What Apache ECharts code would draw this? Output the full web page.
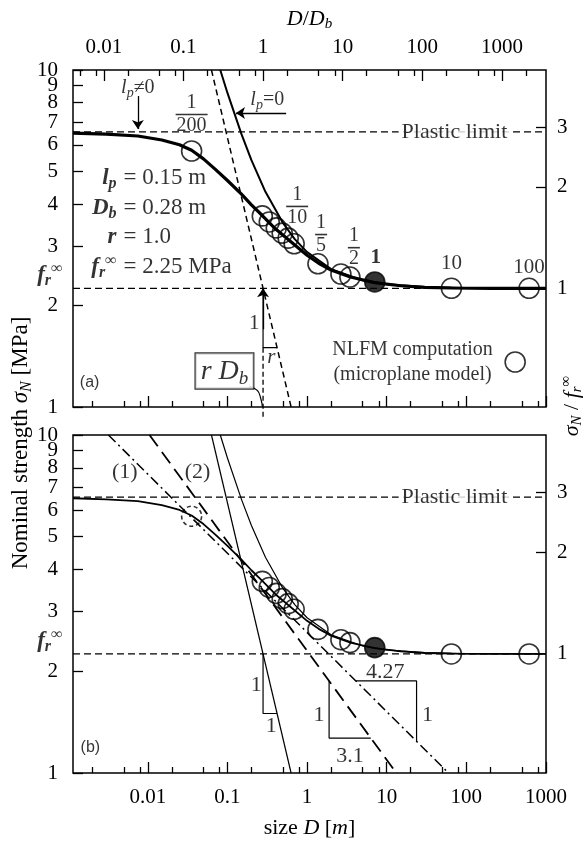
<!DOCTYPE html>
<html><head><meta charset="utf-8">
<script src="https://cdn.jsdelivr.net/npm/echarts@6/dist/echarts.min.js"></script>
<style>html,body{margin:0;padding:0;background:#fff}#c{width:585px;height:846px}</style>
</head><body><div id="c"></div>
<script>
// ---------------- data ----------------
const Db = 0.28;            // m
const fr = 2.25;            // MPa
const plasticLimit = 6.55;  // MPa
const xMin = 0.00115, xMax = 1000;   // size D [m]
const yMin = 1, yMax = 10;           // sigma_N [MPa]

// main size-effect curve (l_p != 0)
const curveD = [0.00115, 0.003, 0.0075, 0.015, 0.025, 0.0355, 0.05, 0.07, 0.1, 0.15, 0.2, 0.274, 0.4, 0.6, 1.0, 1.4, 2.0, 3.5, 7.0, 15, 30, 65, 200, 1000];
const curveS = [6.50, 6.45, 6.37, 6.20, 6.00, 5.78, 5.45, 5.08, 4.70, 4.28, 3.98, 3.70, 3.38, 3.12, 2.82, 2.67, 2.55, 2.43, 2.34, 2.29, 2.265, 2.255, 2.25, 2.25];
// curve for l_p = 0
const lp0D = [0.0813, 0.1, 0.15, 0.2, 0.3, 0.5, 0.7, 1.0, 2.0, 5.0, 10, 30, 100, 1000];
const lp0S = [10, 8.55, 6.45, 5.40, 4.35, 3.51, 3.15, 2.88, 2.565, 2.376, 2.313, 2.27, 2.256, 2.25];
// slope -1/r asymptote
const asymD = [0.063, 0.63];
const asymS = [10, 1];
// NLFM computations (open circles) and reference size (filled)
const nlfmD = [0.0355, 0.274, 0.335, 0.41, 0.487, 0.579, 0.688, 1.37, 2.66, 3.45, 64.9, 613];
const nlfmS = [5.75, 3.69, 3.54, 3.40, 3.28, 3.17, 3.05, 2.66, 2.48, 2.43, 2.25, 2.25];
const refD = [7.08];
const refS = [2.35];
// fitted straight lines (b)
const line1D = [0.0032, 59.6];  const line1S = [10, 1];   // (1) slope 1/4.27
const line2D = [0.0105, 13.2];  const line2S = [10, 1];   // (2) slope 1/3.1
// slope triangles
const triAD = [0.28, 0.28, 0.42];  const triAS = [2.25, 1.5, 1.5];
const tri1D = [4.09, 23.7, 23.7];  const tri1S = [1.873, 1.873, 1.24];
const tri2D = [1.89, 1.89, 6.31];  const tri2S = [1.873, 1.269, 1.269];
// scale factor labels
const scaleNames = ['1/200', '1/10', '1/5', '1/2', '1', '10', '100'];
// axis ticks / labels
const xMajor = [0.01, 0.1, 1, 10, 100, 1000];
const xMinor = [0.002, 0.005, 0.008, 0.02, 0.05, 0.08, 0.2, 0.5, 0.8, 2, 5, 8, 20, 50, 80, 200, 500, 800];
const topMajor = [0.01, 0.1, 1, 10, 100, 1000];          // D/Db
const topMinor = [0.005, 0.008, 0.02, 0.05, 0.08, 0.2, 0.5, 0.8, 2, 5, 8, 20, 50, 80, 200, 500, 800, 2000];
const yTicks = [1, 2, 3, 4, 5, 6, 7, 8, 9, 10];
const yLabelsOdd = [1, 3, 5, 7, 9];
const yLabelsEven = [2, 4, 6, 8, 10];
const rightLabels = [1, 2, 3];
const rightTicks = [2, 3];

// ---------------- helpers ----------------
const SERIF = "'Liberation Serif', 'Times New Roman', serif";
const SANS = "'Liberation Sans', Arial, sans-serif";
function tok(s, it, bd, extra) {
  return Object.assign({fontFamily: SERIF, fontSize: s, fontStyle: it ? 'italic' : 'normal',
    fontWeight: bd ? 'bold' : 'normal', color: '#000'}, extra || {});
}
function RS(s) {
  const lh = Math.round(s * 1.2), ss = Math.round(s * 0.68), pad = lh - ss;
  return {
    n: tok(s, 0, 0, {lineHeight: lh}), i: tok(s, 1, 0, {lineHeight: lh}),
    b: tok(s, 0, 1, {lineHeight: lh}), bi: tok(s, 1, 1, {lineHeight: lh}),
    sub: tok(ss, 1, 0, {lineHeight: ss, padding: [pad, 0, 0, 0]}),
    bsub: tok(ss, 1, 1, {lineHeight: ss, padding: [pad, 0, 0, 0]}),
    sup: tok(ss, 0, 0, {lineHeight: ss, padding: [0, 0, pad, 0]}),
    bsup: tok(ss, 0, 1, {lineHeight: ss, padding: [0, 0, pad, 0]}),
    fn: tok(20, 0, 0, {lineHeight: 22}), fd: tok(20, 0, 0, {lineHeight: 21}),
    bar1: {width: 12, height: 1.6, lineHeight: 1.6, fontSize: 2, fontFamily: SERIF, backgroundColor: '#000'},
    bar2: {width: 22, height: 1.6, lineHeight: 1.6, fontSize: 2, fontFamily: SERIF, backgroundColor: '#000'},
    bar3: {width: 32, height: 1.6, lineHeight: 1.6, fontSize: 2, fontFamily: SERIF, backgroundColor: '#000'}
  };
}
const fmtNum = v => String(parseFloat(Number(v).toPrecision(4)));
function ax(g) { return g ? {xAxisIndex: 4, yAxisIndex: 2} : {xAxisIndex: 2, yAxisIndex: 0}; }
function pts(xs, ys) { return xs.map((x, i) => [x, ys[i]]); }
function curve(g, xs, ys, ls, extra) {
  return Object.assign({type: 'line', data: pts(xs, ys), symbol: 'none', showSymbol: false, silent: true,
    animation: false, z: 2, lineStyle: Object.assign({color: '#000', width: 1.2, type: 'solid'}, ls)}, ax(g), extra || {});
}
function dots(g, xs, ys, item) {
  return Object.assign({type: 'scatter', data: pts(xs, ys), symbol: 'circle', symbolSize: 20, silent: true,
    animation: false, z: 4, itemStyle: Object.assign({color: 'rgba(0,0,0,0)', borderColor: '#000', borderWidth: 1.6}, item || {})}, ax(g));
}
function note(g, x, y, text, lab) {
  const size = (lab && lab.fontSize) || 22;
  return Object.assign({type: 'scatter', data: [[x, y]], symbolSize: 1, silent: true, animation: false, z: 6,
    itemStyle: {color: 'rgba(0,0,0,0)'},
    label: Object.assign({show: true, position: 'inside', formatter: () => text, color: '#000', fontFamily: SERIF,
      fontSize: size, lineHeight: Math.round(size * 1.2), rich: RS(size)}, lab || {})}, ax(g));
}
function arrow(g, p1, p2) {
  return Object.assign({type: 'line', data: [p1], symbol: 'none', silent: true, animation: false, z: 5,
    lineStyle: {opacity: 0},
    markLine: {silent: true, animation: false, symbol: ['none', 'arrow'], symbolSize: 9, precision: 8,
      label: {show: false}, emphasis: {disabled: true},
      lineStyle: {color: '#000', width: 1.3, type: 'solid'},
      data: [[{coord: p1}, {coord: p2}]]}}, ax(g));
}
// keep edge values inside the axis extent so they are not filtered out
function inside(vals, lo, hi) {
  return vals.map(v => Math.min(Math.max(v, lo * (1 + 1e-9)), hi * (1 - 1e-9)));
}
function logAxis(o) {
  const ticks = o.ticks ? inside(o.ticks, o.min, o.max) : null;
  const labels = o.labels ? inside(o.labels, o.min, o.max) : null;
  return {
    type: 'log', logBase: 10, min: o.min, max: o.max, gridIndex: o.grid, position: o.pos,
    axisLine: {show: false}, splitLine: {show: false}, minorTick: {show: false}, minorSplitLine: {show: false},
    axisPointer: {show: false}, silent: true,
    axisTick: ticks ? {show: true, inside: true, length: o.len || 10, customValues: ticks,
      lineStyle: {color: '#000', width: 1.3}} : {show: false},
    axisLabel: labels ? {show: true, customValues: labels, margin: o.margin || 12, color: '#000',
      fontFamily: SERIF, fontSize: 21, formatter: fmtNum, hideOverlap: false,
      showMinLabel: true, showMaxLabel: true} : {show: false},
    name: o.name, nameLocation: 'middle', nameGap: o.nameGap || 30,
    nameTextStyle: {fontFamily: SERIF, fontSize: 22, color: '#000', lineHeight: 26, rich: RS(22)}
  };
}

// fractions
function frac(num, den) {
  const bar = den.length >= 3 ? 'bar3' : den.length === 2 ? 'bar2' : 'bar1';
  return '{fn|' + num + '}\n{' + bar + '| }\n{fd|' + den + '}';
}

// ---------------- option ----------------
const xAxis = [
  logAxis({grid: 0, pos: 'top', min: xMin / Db, max: xMax / Db, ticks: topMajor, len: 11, labels: topMajor, margin: 12,
    name: '{i|D}/{i|D}{sub|b}', nameGap: 38}),
  logAxis({grid: 0, pos: 'top', min: xMin / Db, max: xMax / Db, ticks: topMinor, len: 6}),
  logAxis({grid: 0, pos: 'bottom', min: xMin, max: xMax, ticks: xMajor, len: 11}),
  logAxis({grid: 0, pos: 'bottom', min: xMin, max: xMax, ticks: xMinor, len: 6}),
  logAxis({grid: 1, pos: 'bottom', min: xMin, max: xMax, ticks: xMajor, len: 11, labels: xMajor, margin: 14,
    name: 'size {i|D} [{i|m}]', nameGap: 42}),
  logAxis({grid: 1, pos: 'bottom', min: xMin, max: xMax, ticks: xMinor, len: 6})
];
const yAxis = [
  logAxis({grid: 0, pos: 'left', min: yMin, max: yMax, ticks: yTicks, len: 10, labels: yLabelsOdd, margin: 15}),
  logAxis({grid: 0, pos: 'right', min: yMin / fr, max: yMax / fr, ticks: rightTicks, len: 10, labels: rightLabels, margin: 11}),
  logAxis({grid: 1, pos: 'left', min: yMin, max: yMax, ticks: yTicks, len: 10, labels: yLabelsOdd, margin: 15}),
  logAxis({grid: 1, pos: 'right', min: yMin / fr, max: yMax / fr, ticks: rightTicks, len: 10, labels: rightLabels, margin: 11}),
  logAxis({grid: 0, pos: 'left', min: yMin, max: yMax, labels: yLabelsEven, margin: 15}),
  logAxis({grid: 1, pos: 'left', min: yMin, max: yMax, labels: yLabelsEven, margin: 15})
];

const dashH = {width: 1.2, type: [7, 4]};
const series = [];
for (const g of [0, 1]) {
  series.push(curve(g, [xMin, xMax], [plasticLimit, plasticLimit], dashH));
  series.push(curve(g, [xMin, xMax], [fr, fr], dashH));
  series.push(note(g, 70.8, plasticLimit, 'Plastic limit', {backgroundColor: '#fff', padding: [0, 3, 0, 3]}));
  series.push(note(g, xMin, fr, '{bi|f}{bsub|r}{bsup|∞}', {position: 'left', distance: 10, offset: [0, -13], fontSize: 23}));
  series.push(curve(g, triAD, triAS, {width: 1.2}));
}
// ---- panel (a)
series.push(curve(0, asymD, asymS, {width: 1.5, type: [6, 4]}));
series.push(curve(0, [Db, Db], [1.5, 0.935], {width: 1.3, type: [5, 3]}, {clip: false}));
series.push(curve(0, lp0D, lp0S, {width: 2}));
series.push(curve(0, curveD, curveS, {width: 3.2}));
series.push(dots(0, nlfmD, nlfmS));
series.push(dots(0, refD, refS, {color: '#000'}));
series.push(dots(0, [410], [1.36]));
series.push(arrow(0, [0.0075, 8.37], [0.0075, 6.68]));
series.push(arrow(0, [0.546, 7.45], [0.128, 7.45]));
series.push(arrow(0, [Db, 1.7], [Db, 2.25]));
series.push(curve(0, [0.188, 0.237, 0.262, 0.275], [1.15, 1.12, 1.06, 1.0], {width: 1.2}, {smooth: true}));
series.push(note(0, 0.0075, 8.84, '{i|l}{sub|p}{n|≠0}', {fontSize: 20}));
series.push(note(0, 0.316, 8.15, '{i|l}{sub|p}{n|=0}', {fontSize: 20}));
const fracPos = [[0.0355, 7.40], [0.75, 3.95], [1.50, 3.26], [3.87, 2.98], [7.29, 2.77], [65, 2.67], [613, 2.60]];
scaleNames.forEach((s, i) => {
  const p = s.split('/');
  const txt = p.length === 2 ? frac(p[0], p[1]) : (s === '1' ? '{b|1}' : '{n|' + s + '}');
  series.push(note(0, fracPos[i][0], fracPos[i][1], txt, {fontSize: 21}));
});
const parX = 0.00461;
const params = [['{bi|l}{bsub|p}', '= 0.15 m', 4.78], ['{bi|D}{bsub|b}', '= 0.28 m', 3.90],
  ['{bi|r}', '= 1.0', 3.19], ['{bi|f}{bsub|r}{bsup|∞}', '= 2.25 MPa', 2.60]];
params.forEach(p => {
  series.push(note(0, parX, p[2], p[0], {position: 'left', distance: 4, fontSize: 23}));
  series.push(note(0, parX, p[2], p[1], {position: 'right', distance: 2, fontSize: 23}));
});
series.push(note(0, 0.217, 1.775, '1', {fontSize: 21}));
series.push(note(0, 0.355, 1.398, '{i|r}', {fontSize: 21}));
series.push(note(0, 0.0917, 1.279, '{i|r D}{sub|b}', {fontSize: 28, borderColor: '#000', borderWidth: 1.2,
  padding: [1, 5, 0, 5], backgroundColor: '#fff'}));
series.push(note(0, 21.1, 1.36, 'NLFM computation\n(microplane model)', {fontSize: 20, lineHeight: 25}));
series.push(note(0, 0.00186, 1.178, '(a)', {fontSize: 16, fontFamily: SANS}));
// ---- panel (b)
series.push(curve(1, asymD, asymS, {width: 1.2}));
series.push(curve(1, lp0D, lp0S, {width: 1.2}));
series.push(curve(1, line1D, line1S, {width: 1.5, type: [10, 4, 2, 4]}));
series.push(curve(1, line2D, line2S, {width: 1.8, type: [14, 7]}));
series.push(curve(1, tri1D, tri1S, {width: 1.2}));
series.push(curve(1, tri2D, tri2S, {width: 1.2}));
series.push(curve(1, curveD, curveS, {width: 1.8}));
series.push(dots(1, nlfmD.slice(1), nlfmS.slice(1)));
series.push(dots(1, nlfmD.slice(0, 1), nlfmS.slice(0, 1), {borderType: [4, 3]}));
series.push(dots(1, refD, refS, {color: '#000'}));
series.push(note(1, 0.00513, 7.78, '(1)'));
series.push(note(1, 0.0422, 7.78, '(2)'));
series.push(note(1, 9.6, 1.99, '4.27'));
series.push(note(1, 32.6, 1.485, '1'));
series.push(note(1, 1.41, 1.485, '1'));
series.push(note(1, 3.45, 1.12, '3.1'));
series.push(note(1, 0.23, 1.82, '1'));
series.push(note(1, 0.355, 1.377, '1'));
series.push(note(1, 0.0019, 1.186, '(b)', {fontSize: 16, fontFamily: SANS}));

const option = {
  animation: false,
  backgroundColor: '#fff',
  textStyle: {fontFamily: SERIF, color: '#000'},
  grid: [
    {left: 73, right: 39, top: 70, height: 337, show: true, borderColor: '#000', borderWidth: 1.5,
      backgroundColor: 'rgba(0,0,0,0)', containLabel: false, outerBoundsMode: 'none'},
    {left: 73, right: 39, top: 435, height: 338, show: true, borderColor: '#000', borderWidth: 1.5,
      backgroundColor: 'rgba(0,0,0,0)', containLabel: false, outerBoundsMode: 'none'}
  ],
  xAxis: xAxis,
  yAxis: yAxis,
  series: series,
  graphic: [
    {type: 'text', x: 21, y: 443, rotation: Math.PI / 2, silent: true,
      style: {text: 'Nominal strength {i|σ}{sub|N} [MPa]', rich: RS(23), fontFamily: SERIF, fontSize: 23,
        fill: '#000', align: 'center', verticalAlign: 'middle'}},
    {type: 'text', x: 572, y: 406, rotation: Math.PI / 2, silent: true,
      style: {text: '{i|σ}{sub|N} / {i|f}{sub|r}{sup|∞}', rich: RS(22), fontFamily: SERIF, fontSize: 22,
        fill: '#000', align: 'center', verticalAlign: 'middle'}}
  ]
};
const chart = echarts.init(document.getElementById('c'), null, {renderer: 'canvas'});
chart.setOption(option);
</script>
</body></html>
